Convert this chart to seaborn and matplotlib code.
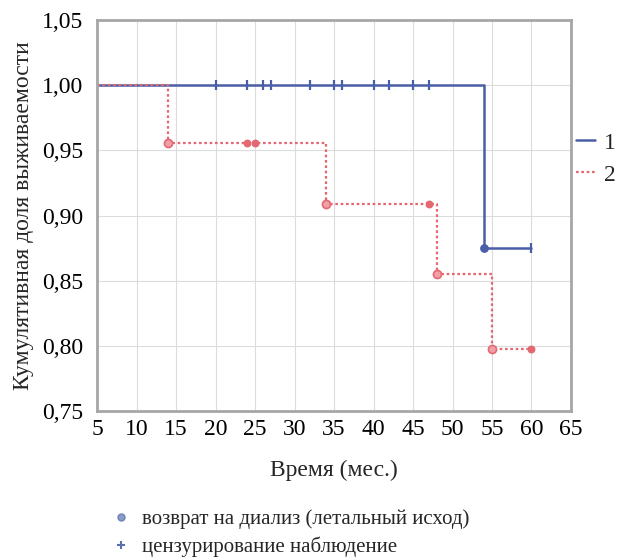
import numpy as np
import pandas as pd
import matplotlib
matplotlib.use('Agg')
import matplotlib.pyplot as plt
from matplotlib.lines import Line2D
import seaborn as sns

# Кривые выживаемости (Каплан-Мейер)
t_grp1 = [5, 54, 60]
s_grp1 = [1.0, 0.875, 0.875]
ev_t_grp1 = [54]
ev_s_grp1 = [0.875]
cens_t_grp1 = [20, 24, 26, 27, 32, 35, 36, 40, 42, 45, 47, 60]
cens_s_grp1 = [1.0, 1.0, 1.0, 1.0, 1.0, 1.0, 1.0, 1.0, 1.0, 1.0, 1.0, 0.875]

t_grp2 = [5, 14, 34, 48, 55, 60]
s_grp2 = [1.0, 0.956, 0.909, 0.855, 0.798, 0.798]
ev_t_grp2 = [14, 34, 48, 55]
ev_s_grp2 = [0.956, 0.909, 0.855, 0.798]
cens_t_grp2 = [24, 25, 47, 60]
cens_s_grp2 = [0.956, 0.956, 0.909, 0.798]

x_ticks = list(range(5, 70, 5))
y_ticks = [0.75, 0.80, 0.85, 0.90, 0.95, 1.00, 1.05]

blue = '#4a5ea8'
red = '#e46872'

sns.set_style('whitegrid', {'grid.color': '#dcdcdc', 'axes.edgecolor': '#a0a0a0'})
plt.rcParams['font.serif'] = ['Liberation Serif', 'DejaVu Serif']
plt.rcParams['font.family'] = 'serif'

fig = plt.figure(figsize=(6.22, 5.57), dpi=100)
ax = fig.add_axes([0.156, 0.262, 0.762, 0.702])

df1 = pd.DataFrame({'t': t_grp1, 's': s_grp1})
df2 = pd.DataFrame({'t': t_grp2, 's': s_grp2})
sns.lineplot(data=df1, x='t', y='s', drawstyle='steps-post', color=blue, linewidth=1.8,
             label='1', ax=ax)
sns.lineplot(data=df2, x='t', y='s', drawstyle='steps-post', color=red, linewidth=1.6,
             linestyle=(0, (1.2, 1.2)), label='2', ax=ax)

# события (возврат на диализ)
ax.scatter(ev_t_grp1, ev_s_grp1, marker='o', s=28, color=blue, zorder=4)
ax.scatter(ev_t_grp2, ev_s_grp2, marker='o', s=34, facecolor='#f0a0a6', edgecolor=red,
           linewidth=1.2, zorder=4)
# цензурированные наблюдения
ax.scatter(cens_t_grp1, cens_s_grp1, marker='|', s=50, color=blue, linewidth=1.6, zorder=4)
ax.scatter(cens_t_grp2, cens_s_grp2, marker='o', s=22, color=red, zorder=4)

ax.set_xlim(5, 65)
ax.set_ylim(0.75, 1.05)
ax.set_xticks(x_ticks)
ax.set_yticks(y_ticks)
ax.set_yticklabels([f'{v:.2f}'.replace('.', ',') for v in y_ticks])
ax.tick_params(axis='both', labelsize=17, colors='black', length=0, pad=10)
ax.tick_params(axis='x', pad=6)
for sp in ax.spines.values():
    sp.set_linewidth(2)
    sp.set_color('#a6a6a6')
ax.set_xlabel('Время (мес.)', fontsize=17, labelpad=14)
ax.set_ylabel('Кумулятивная доля выживаемости', fontsize=17, labelpad=6)

ax.legend(loc='center left', bbox_to_anchor=(1.0, 0.645), frameon=False, fontsize=17,
          handlelength=0.8, handletextpad=0.4, labelspacing=0.45, borderpad=0.0,
          borderaxespad=0.2)

handles = [
    Line2D([], [], marker='o', linestyle='none', markersize=5, color='#8c9cc8',
           markeredgecolor='#6e80b8'),
    Line2D([], [], marker='+', linestyle='none', markersize=6, color='#5a6eb0',
           markeredgewidth=1.5),
]
fig.legend(handles, ['возврат на диализ (летальный исход)', 'цензурирование наблюдение'],
           loc='upper left', bbox_to_anchor=(0.165, 0.104), frameon=False, fontsize=15,
           handlelength=0.8, handletextpad=0.6, labelspacing=0.35, borderpad=0.0)

fig.savefig('out.png', dpi=100)
